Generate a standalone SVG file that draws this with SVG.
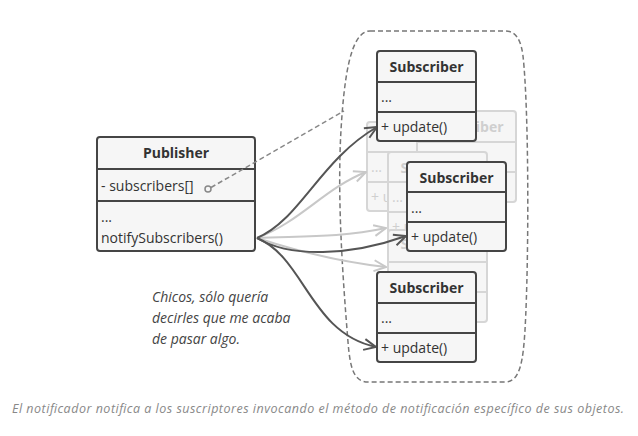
<svg xmlns="http://www.w3.org/2000/svg" width="638" height="436" viewBox="0 0 638 436">
<defs>
<style>
.box{fill:#f6f6f6;stroke:#454545;stroke-width:2}
.gbox{fill:#f6f6f6;stroke:#d6d6d6;stroke-width:2}
.div{stroke:#454545;stroke-width:2}
.gdiv{stroke:#d6d6d6;stroke-width:2}
.t{font-family:"Open Sans","Noto Sans",sans-serif;font-size:14px;fill:#333}
.tb{font-family:"Open Sans","Noto Sans",sans-serif;font-size:14px;font-weight:bold;fill:#333;text-anchor:middle}
.gt{font-family:"Open Sans","Noto Sans",sans-serif;font-size:14px;fill:#cfcfcf}
.gtb{font-family:"Open Sans","Noto Sans",sans-serif;font-size:14px;font-weight:bold;fill:#cfcfcf;text-anchor:middle}
.c{fill:none;stroke:#555;stroke-width:2}
.cg{fill:none;stroke:#c8c8c8;stroke-width:2}
.it{font-family:"Open Sans","Noto Sans",sans-serif;font-style:italic;fill:#444;font-size:14px}
</style>
<marker id="ah" viewBox="0 0 14 14" refX="13" refY="7" markerWidth="14" markerHeight="14" markerUnits="userSpaceOnUse" orient="auto">
<path d="M1,1.5 L13,7 L1,12.5" fill="none" stroke="#555" stroke-width="2"/>
</marker>
<marker id="ahg" viewBox="0 0 14 14" refX="13" refY="7" markerWidth="14" markerHeight="14" markerUnits="userSpaceOnUse" orient="auto">
<path d="M1,1.5 L13,7 L1,12.5" fill="none" stroke="#c8c8c8" stroke-width="2"/>
</marker>
</defs>
<rect width="638" height="436" fill="#fff"/>

<g id="container">
<path d="M370,31 H505 C516,31 521,40 523,56 C529,110 529,260 525,330 C523,362 520,382 505,382 H368 C353,382 350,366 348,342 C343,280 337,200 341,130 C344,80 350,31 370,31 Z" fill="none" stroke="#777" stroke-width="1.5" stroke-dasharray="5,3"/>
</g>

<g id="ghost-subscribers">
<g id="ghost2">
<rect class="gbox" x="367" y="122" width="99" height="89" rx="3"/>
<line class="gdiv" x1="367" y1="152" x2="466" y2="152"/>
<line class="gdiv" x1="367" y1="182" x2="466" y2="182"/>
<text class="gtb" x="416.5" y="142">Subscriber</text>
<text class="gt" x="371" y="172">...</text>
<text class="gt" x="371" y="202">+ update()</text>
</g>
<g id="ghost1">
<rect class="gbox" x="417" y="111" width="99" height="91" rx="3"/>
<line class="gdiv" x1="417" y1="142" x2="516" y2="142"/>
<line class="gdiv" x1="417" y1="172" x2="516" y2="172"/>
<text class="gtb" x="466.5" y="132">Subscriber</text>
</g>
<g id="ghost3">
<rect class="gbox" x="388" y="152" width="99" height="90" rx="3"/>
<line class="gdiv" x1="388" y1="182" x2="487" y2="182"/>
<line class="gdiv" x1="388" y1="212" x2="487" y2="212"/>
<text class="gtb" x="437.5" y="173">Subscriber</text>
<text class="gt" x="392" y="202">...</text>
<text class="gt" x="392" y="232">+ update()</text>
</g>
<g id="ghost4">
<rect class="gbox" x="388" y="230" width="99" height="92" rx="3"/>
<line class="gdiv" x1="388" y1="262" x2="487" y2="262"/>
<line class="gdiv" x1="388" y1="292" x2="487" y2="292"/>
<text class="gtb" x="437.5" y="249">Subscriber</text>
</g>
</g>

<g id="publisher">
<rect class="box" x="97" y="137" width="158" height="114" rx="3"/>
<line class="div" x1="97" y1="169" x2="255" y2="169"/>
<line class="div" x1="97" y1="201" x2="255" y2="201"/>
<text class="tb" x="176" y="158">Publisher</text>
<text class="t" x="101" y="191">- subscribers[]</text>
<circle cx="208" cy="189" r="3" fill="none" stroke="#888" stroke-width="1.5"/>
<text class="t" x="101" y="222">...</text>
<text class="t" x="101" y="243">notifySubscribers()</text>
</g>

<g id="connectors">
<line x1="211" y1="187.5" x2="344" y2="111" stroke="#888" stroke-width="1.5" stroke-dasharray="5,3"/>
<path class="cg" d="M257,238 C300,222 325,188 366,172" marker-end="url(#ahg)"/>
<path class="cg" d="M257,238 C300,236 340,238 386,228" marker-end="url(#ahg)"/>
<path class="cg" d="M257,238 C300,252 340,262 386,267" marker-end="url(#ahg)"/>
<path class="c" d="M257,238 C300,220 320,160 377,127" marker-end="url(#ah)"/>
<path class="c" d="M257,238 C290,258 350,256 406,236" marker-end="url(#ah)"/>
<path class="c" d="M257,238 C305,258 310,333 376,347" marker-end="url(#ah)"/>
</g>

<g id="subscriber-a">
<rect class="box" x="377" y="51" width="99" height="90" rx="3"/>
<line class="div" x1="377" y1="82" x2="476" y2="82"/>
<line class="div" x1="377" y1="112" x2="476" y2="112"/>
<text class="tb" x="426.5" y="72">Subscriber</text>
<text class="t" x="381" y="102">...</text>
<text class="t" x="381" y="132">+ update()</text>
</g>

<g id="subscriber-b">
<rect class="box" x="407" y="162" width="99" height="89" rx="3"/>
<line class="div" x1="407" y1="192" x2="506" y2="192"/>
<line class="div" x1="407" y1="222" x2="506" y2="222"/>
<text class="tb" x="456.5" y="183">Subscriber</text>
<text class="t" x="411" y="213">...</text>
<text class="t" x="411" y="242">+ update()</text>
</g>

<g id="subscriber-c">
<rect class="box" x="377" y="272" width="99" height="90" rx="3"/>
<line class="div" x1="377" y1="303" x2="476" y2="303"/>
<line class="div" x1="377" y1="333" x2="476" y2="333"/>
<text class="tb" x="426.5" y="293">Subscriber</text>
<text class="t" x="381" y="323">...</text>
<text class="t" x="381" y="353">+ update()</text>
</g>

<g id="note">
<text class="it" x="152" y="302">Chicos, sólo quería</text>
<text class="it" x="152" y="323">decirles que me acaba</text>
<text class="it" x="152" y="344">de pasar algo.</text>
</g>

<text x="12" y="413" textLength="612" lengthAdjust="spacing" font-family="'Open Sans','Noto Sans',sans-serif" font-style="italic" font-size="12.5" fill="#888">El notificador notifica a los suscriptores invocando el método de notificación específico de sus objetos.</text>
</svg>
